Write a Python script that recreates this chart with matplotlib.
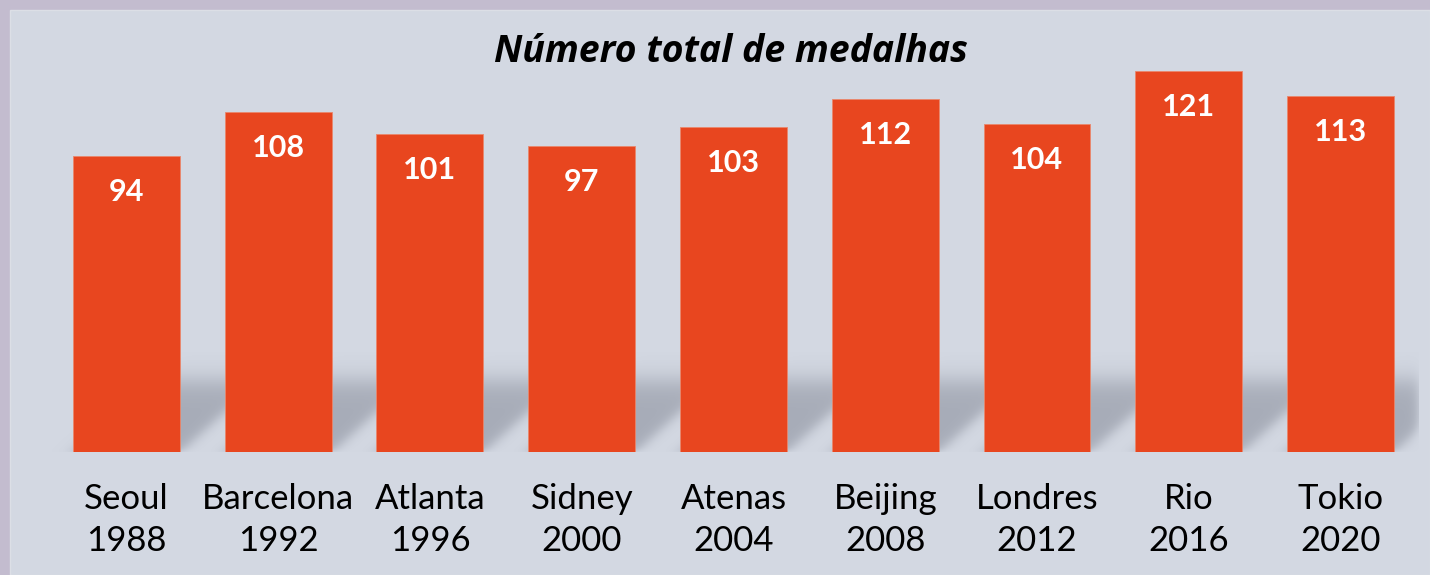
import numpy as np
import matplotlib.pyplot as plt
from matplotlib.patches import Rectangle

# dados
cidades = ['Seoul', 'Barcelona', 'Atlanta', 'Sidney', 'Atenas', 'Beijing', 'Londres', 'Rio', 'Tokio']
anos = ['1988', '1992', '1996', '2000', '2004', '2008', '2012', '2016', '2020']
medalhas = [94, 108, 101, 97, 103, 112, 104, 121, 113]

titulo = 'Número total de medalhas'

cor_barra = '#e8461f'
cor_fundo = '#d3d8e2'
cor_borda = '#c3bccf'
largura = 0.705

plt.rcParams['font.family'] = ['Lato', 'DejaVu Sans']

fig = plt.figure(figsize=(14.3, 5.75), dpi=100)
fig.patch.set_facecolor(cor_borda)

# painel claro
fig.patches.append(Rectangle((10 / 1430, 0), 1420 / 1430, 565 / 575, transform=fig.transFigure,
                             facecolor=cor_fundo, edgecolor='#dcdfe6', linewidth=1, zorder=-5))

ax = fig.add_axes([0.03538, 0.21391, 0.9551, 0.71652])
ax.set_zorder(3)
ax.set_facecolor('none')
x = np.arange(len(cidades))
ax.set_xlim(-0.5, len(cidades) - 0.5)
ax.set_ylim(0, 130.7)

# sombra em perspectiva atras das barras (calculada em pixels)
bbox = ax.get_window_extent()
px_x = bbox.width / len(cidades)
px_y = bbox.height / 130.7
x_fim = 8.51
gx = np.linspace(-0.5, x_fim, 900)
gh = np.linspace(0, 100, 130)  # altura em pixels acima da base
GX, GH = np.meshgrid(gx, gh)
k = 1.1  # deslocamento horizontal por pixel de altura
sig = lambda t: 1 / (1 + np.exp(-t))
alpha = np.zeros_like(GX)
for xi in x:
    x0 = (xi - largura / 2) * px_x
    x1 = (xi + largura / 2) * px_x
    p = GX * px_x - k * GH
    a = sig((p - x0) / 5) * sig((x1 - p) / 5)
    alpha = np.maximum(alpha, a)
vert = sig((72 - GH) / 7) * sig(GH / 1.5)
alpha = alpha * vert
alpha = alpha * sig((x_fim - GX) * px_x / 3)
img = np.zeros(GX.shape + (4,))
img[..., 0] = 0.55
img[..., 1] = 0.57
img[..., 2] = 0.62
img[..., 3] = alpha * 0.62
ax.imshow(img, extent=(-0.5, x_fim, 0, 100 / px_y), origin='lower', aspect='auto',
          zorder=1, clip_on=False, interpolation='bilinear')

bars = ax.bar(x, medalhas, width=largura, color=cor_barra, edgecolor='#e9876c', linewidth=0.6, zorder=2)

for xi, v in zip(x, medalhas):
    ax.annotate(str(v), (xi, v), xytext=(0, -45), textcoords='offset pixels',
                ha='center', va='baseline', color='white', fontsize=22, fontweight='bold', zorder=3)

ax.set_xticks(x)
ax.set_xticklabels([c + '\n' + a for c, a in zip(cidades, anos)], fontsize=25,
                   linespacing=1.41, color='black')
ax.tick_params(axis='x', length=0, pad=22)
ax.set_yticks([])
for s in ax.spines.values():
    s.set_visible(False)

fig.text(731 / 1430, 1 - 62 / 575, titulo, ha='center', va='baseline', fontsize=27,
         fontweight='bold', fontstyle='italic', family=['Open Sans', 'DejaVu Sans'])

fig.savefig('out.png', dpi=100, facecolor=fig.get_facecolor())
